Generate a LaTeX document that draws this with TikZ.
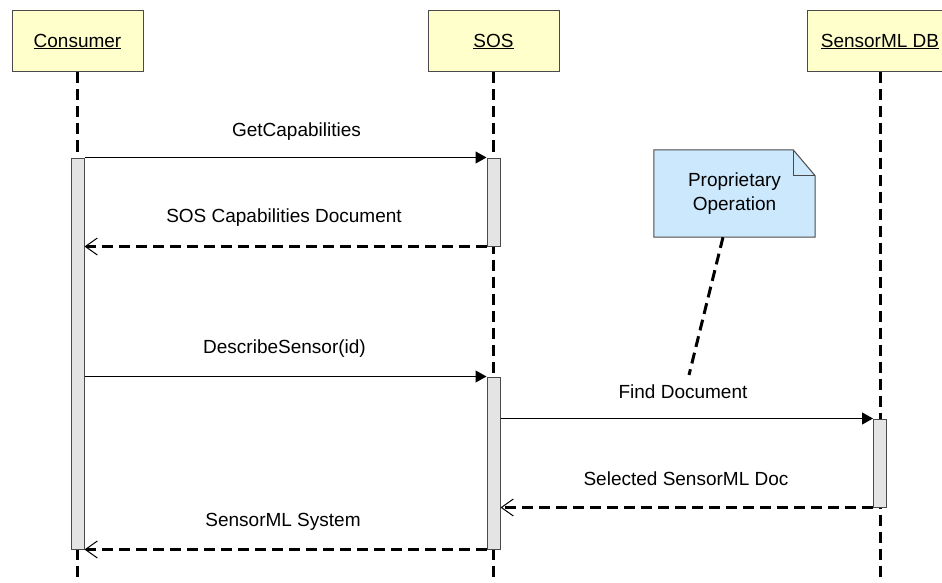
\documentclass[tikz,border=0pt]{standalone}
\usepackage{fontspec}
\setmainfont{Liberation Sans}
\usetikzlibrary{arrows.meta,calc,backgrounds}

\definecolor{headfill}{HTML}{FFFFCC}
\definecolor{notefill}{HTML}{CCE8FC}
\definecolor{barfill}{HTML}{E4E4E4}
\definecolor{boxline}{HTML}{4A4A4A}

\begin{document}
\begin{tikzpicture}[x=1pt,y=-1pt,
  every node/.style={font=\fontsize{19}{23}\selectfont, inner sep=0pt, text=black},
  head/.style={draw=boxline, fill=headfill, line width=1pt,
               minimum width=131pt, minimum height=61pt},
  bar/.style={draw=boxline, fill=barfill, line width=1pt, minimum width=13pt},
  life/.style={line width=3pt, dash pattern=on 11pt off 6pt},
  call/.style={line width=1.2pt, -{Triangle[length=11pt,width=12pt]}},
  reply/.style={line width=3pt, dash pattern=on 11pt off 6pt,
                -{Straight Barb[length=12pt,width=17pt,line width=1pt]}},
  label/.style={anchor=center}]

\useasboundingbox (0,0) rectangle (942,583);

% lifeline heads
\node[head] (consumer) at (77.5,41.5) {\underline{Consumer}};
\node[head] (sos) at (493.5,41.5) {\underline{SOS}};
\node[head, minimum width=146pt] (db) at (880,41.5) {\underline{SensorML DB}};

% lifelines
\coordinate (cend) at (77.5,583);
\coordinate (send) at (493.5,583);
\coordinate (dend) at (880,583);
\draw[life] (consumer.south) -- (cend);
\draw[life] (sos.south) -- (send);
\draw[life] (db.south) -- (dend);

% activation bars
\node[bar, minimum height=391pt] (cbar) at (77.5,353.5) {};
\node[bar, minimum height=88pt] (sbar1) at (493.5,202) {};
\node[bar, minimum height=172pt] (sbar2) at (493.5,463) {};
\node[bar, minimum height=88pt] (dbar) at (880,463) {};

% messages
\draw[call] (cbar.north east) -- (sbar1.north west);
\node[label] (m1) at (296.5,132) {GetCapabilities};

\draw[reply] (sbar1.south west) -- (sbar1.south west -| cbar.east);
\node[label] (m2) at (284,218) {SOS Capabilities Document};

\draw[call] (sbar2.north west -| cbar.east) -- (sbar2.north west);
\node[label] (m3) at (284.5,349) {DescribeSensor(id)};

\draw[call] (sbar2.east |- dbar.north) -- (dbar.north west);
\node[label] (m4) at (683,392) {Find Document};

\draw[reply] (dbar.south west) -- (dbar.south west -| sbar2.east);
\node[label] (m5) at (686,479) {Selected SensorML Doc};

\draw[reply] (sbar2.south west) -- (sbar2.south west -| cbar.east);
\node[label] (m6) at (283,522) {SensorML System};

% note with folded corner
\node[minimum width=161pt, minimum height=87pt, align=center] (note) at (734.5,193.5)
  {Proprietary\\[1pt]Operation};
\begin{scope}[on background layer]
  \fill[notefill] (note.north west) -- ([xshift=-22pt]note.north east)
    -- ([yshift=-26pt]note.north east) -- (note.south east) -- (note.south west) -- cycle;
\end{scope}
\draw[boxline, line width=1pt] (note.north west) -- ([xshift=-22pt]note.north east)
  -- ([yshift=-26pt]note.north east) -- (note.south east) -- (note.south west) -- cycle;
\draw[boxline, line width=1pt] ([xshift=-22pt]note.north east) |- ([yshift=-26pt]note.north east);

% note connector
\coordinate (notetip) at (689,375);
\draw[life] ([xshift=-11.5pt]note.south) -- (notetip);

\end{tikzpicture}
\end{document}
